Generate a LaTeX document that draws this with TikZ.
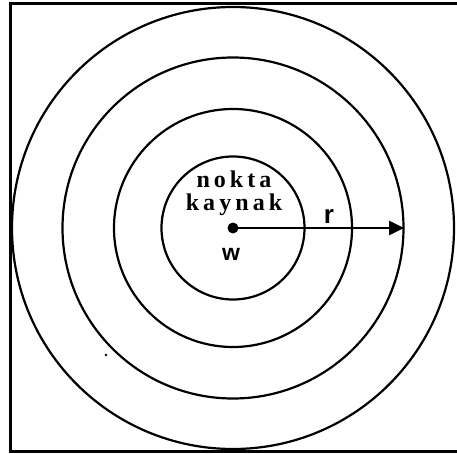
\documentclass[tikz,border=0pt]{standalone}
\usepackage{fontspec}
\setmainfont{Liberation Serif}
\newfontfamily\labfont{Liberation Sans}
\usetikzlibrary{arrows.meta}
\begin{document}
\begin{tikzpicture}[x=1pt,y=-1pt,
  ring/.style={draw=black,line width=2.2pt},
  frameline/.style={draw=black,line width=3pt},
  srctext/.style={font=\bfseries\fontsize{24}{23}\selectfont\addfontfeature{LetterSpace=17},align=center,anchor=base,inner sep=0pt},
  lab/.style={font=\labfont\bfseries\fontsize{23}{23}\selectfont,anchor=base,inner sep=0pt},
  radius arrow/.style={draw=black,line width=2.6pt,-{Triangle[length=15pt,width=14pt]}}]
\useasboundingbox (0,0) rectangle (457,454);
\coordinate (c) at (233,228);
\coordinate (tip) at (404,228);
% frame (right side lies outside the picture)
\draw[frameline] (470,4) -- (10.5,4) -- (10.5,451) -- (470,451);
% rings
\draw[ring] (c) circle[radius=71.5];
\draw[ring] (c) circle[radius=119];
\draw[ring] (c) circle[radius=170.5];
\draw[ring] (c) circle[radius=221];
% source point and radius
\fill (c) circle[radius=5.5];
\draw[radius arrow] (c) -- (tip);
\node[srctext] (src) at (234,211) {nokta\\kaynak};
\node[lab] (w) at (231,260) {w};
\node[lab,font=\labfont\bfseries\fontsize{26}{26}\selectfont] (r) at (329,223) {r};
% speck
\fill (106,355) circle[radius=1.3];
\end{tikzpicture}
\end{document}
